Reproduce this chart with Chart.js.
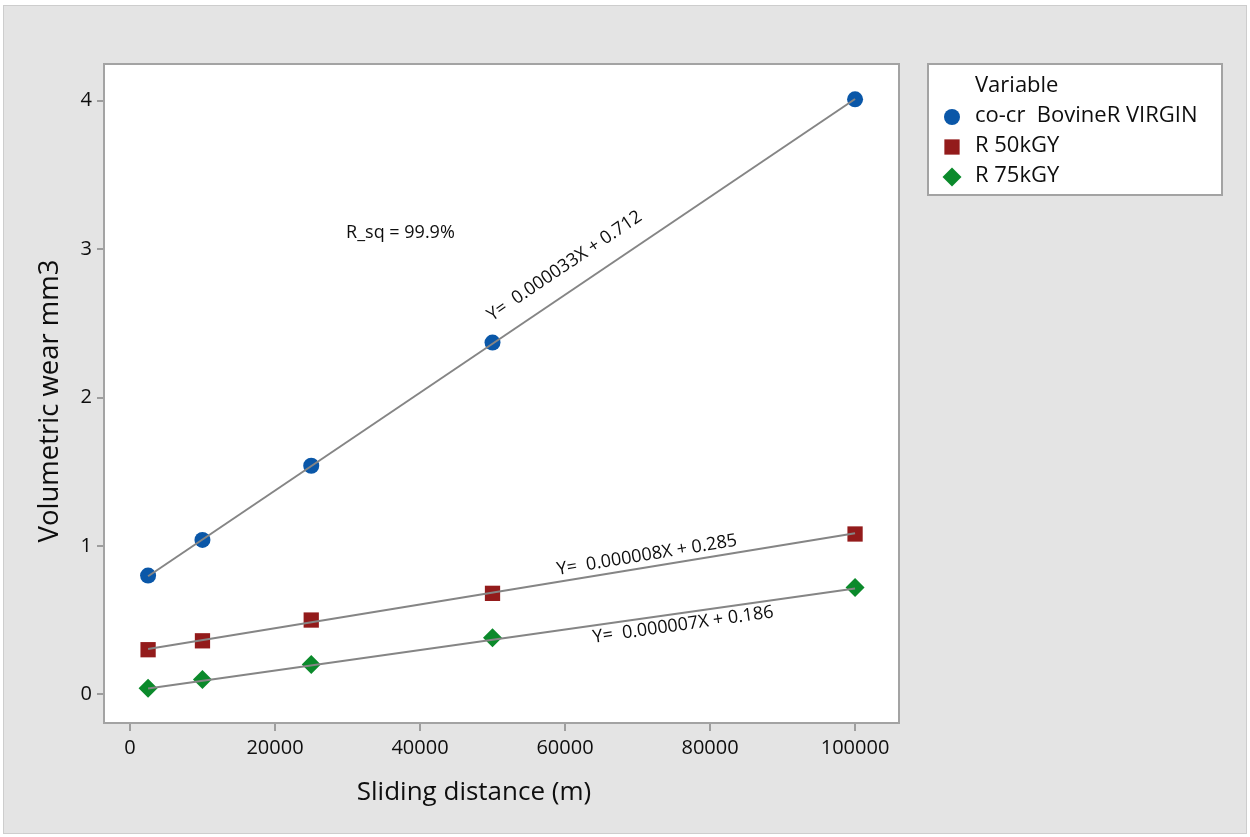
<!DOCTYPE html>
<html>
<head>
<meta charset="utf-8">
<title>Volumetric wear vs sliding distance</title>
<script src="https://cdn.jsdelivr.net/npm/chart.js@4.4.0/dist/chart.umd.min.js"></script>
<style>
  html, body { margin: 0; padding: 0; background: #ffffff; }
  #wrap { width: 1250px; height: 837px; position: relative; }
</style>
</head>
<body>
<div id="wrap"><canvas id="wearChart"></canvas></div>
<script>
// sliding distance (m) at each wear measurement
const distances = [2500, 10000, 25000, 50000, 100000];
const virginWear = [0.80, 1.04, 1.54, 2.37, 4.01];
const r50Wear = [0.30, 0.36, 0.50, 0.68, 1.08];
const r75Wear = [0.04, 0.10, 0.20, 0.38, 0.72];

// ends of the fitted regression lines
const fitX = [2500, 100000];
const virginFit = [0.795, 4.012];
const r50Fit = [0.305, 1.085];
const r75Fit = [0.039, 0.713];

const seriesNames = ['co-cr  BovineR VIRGIN', 'R 50kGY', 'R 75kGY'];
const fitLabels = ['Y=  0.000033X + 0.712', 'Y=  0.000008X + 0.285', 'Y=  0.000007X + 0.186'];
const rsqLabel = 'R_sq = 99.9%';
const xTicks = [0, 20000, 40000, 60000, 80000, 100000];
const yTicks = [0, 1, 2, 3, 4];

const FONT = '"Open Sans", "Noto Sans", sans-serif';
const TEXT = '#0e0e0e';
const LINE_GREY = '#858585';

function toPoints(xs, ys) {
    return xs.map((x, i) => ({ x: x, y: ys[i] }));
}

// where each equation sits along its line (x in data units, offset in px off the line)
const fitLabelPos = [
    { at: 61800, off: -24 },
    { at: 71560, off: -12 },
    { at: 76050, off: 12 }
];

const framePlugin = {
    id: 'frame',
    beforeDraw(chart) {
        const ctx = chart.ctx;
        const a = chart.chartArea;
        ctx.save();
        ctx.fillStyle = '#ffffff';
        ctx.fillRect(0, 0, chart.width, chart.height);
        ctx.fillStyle = '#e4e4e4';
        ctx.fillRect(4, 6, 1242, 827);
        ctx.strokeStyle = '#cdcdcd';
        ctx.lineWidth = 1;
        ctx.strokeRect(3.5, 5.5, 1243, 828);
        ctx.fillStyle = '#ffffff';
        ctx.fillRect(a.left, a.top, a.right - a.left, a.bottom - a.top);
        ctx.restore();
    },
    afterDraw(chart) {
        const ctx = chart.ctx;
        const a = chart.chartArea;
        const xs = chart.scales.x;
        const ys = chart.scales.y;
        ctx.save();

        // plot border
        ctx.strokeStyle = '#a3a3a3';
        ctx.lineWidth = 2;
        ctx.strokeRect(a.left, a.top, a.right - a.left, a.bottom - a.top);

        // axis titles
        ctx.fillStyle = TEXT;
        ctx.font = '26px ' + FONT;
        ctx.textAlign = 'center';
        ctx.textBaseline = 'alphabetic';
        ctx.fillText('Sliding distance (m)', 474, 800);
        ctx.save();
        ctx.translate(58, 401);
        ctx.rotate(-Math.PI / 2);
        ctx.font = '27.5px ' + FONT;
        ctx.fillText('Volumetric wear mm3', 0, 0);
        ctx.restore();

        // regression equations, rotated along their lines
        const fits = [virginFit, r50Fit, r75Fit];
        ctx.font = '18px ' + FONT;
        ctx.textBaseline = 'middle';
        fits.forEach((f, i) => {
            const p0 = { x: xs.getPixelForValue(fitX[0]), y: ys.getPixelForValue(f[0]) };
            const p1 = { x: xs.getPixelForValue(fitX[1]), y: ys.getPixelForValue(f[1]) };
            const t = (fitLabelPos[i].at - fitX[0]) / (fitX[1] - fitX[0]);
            const px = p0.x + (p1.x - p0.x) * t;
            const py = p0.y + (p1.y - p0.y) * t;
            ctx.save();
            ctx.translate(px, py);
            ctx.rotate(Math.atan2(p1.y - p0.y, p1.x - p0.x));
            ctx.fillText(fitLabels[i], 0, fitLabelPos[i].off);
            ctx.restore();
        });
        ctx.fillText(rsqLabel, xs.getPixelForValue(37300), ys.getPixelForValue(3.11));

        // legend box
        const lx = 928, ly = 64, lw = 294, lh = 131;
        ctx.fillStyle = '#ffffff';
        ctx.fillRect(lx, ly, lw, lh);
        ctx.strokeStyle = '#a3a3a3';
        ctx.lineWidth = 2;
        ctx.strokeRect(lx, ly, lw, lh);
        ctx.fillStyle = TEXT;
        ctx.font = '22px ' + FONT;
        ctx.textAlign = 'left';
        ctx.textBaseline = 'alphabetic';
        ctx.fillText('Variable', 975, 92);
        const pointSets = chart.data.datasets.filter(d => !d.showLine);
        pointSets.forEach((d, i) => {
            const y = 122 + i * 30;
            ctx.fillStyle = d.backgroundColor;
            Chart.helpers.drawPoint(ctx, { pointStyle: d.pointStyle, radius: d.pointRadius, rotation: 0, borderWidth: 0 }, 952, y - 5);
            ctx.fillStyle = TEXT;
            ctx.fillText(d.label, 975, y);
        });
        ctx.restore();
    }
};

const axisGrid = {
    drawOnChartArea: false,
    drawTicks: true,
    color: '#9d9d9d',
    lineWidth: 2
};

new Chart(document.getElementById('wearChart'), {
    type: 'scatter',
    data: {
        datasets: [{
            label: 'fit virgin',
            data: toPoints(fitX, virginFit),
            showLine: true,
            borderColor: LINE_GREY,
            borderWidth: 2,
            pointRadius: 0,
            order: 0
        }, {
            label: 'fit 50',
            data: toPoints(fitX, r50Fit),
            showLine: true,
            borderColor: LINE_GREY,
            borderWidth: 2,
            pointRadius: 0,
            order: 0
        }, {
            label: 'fit 75',
            data: toPoints(fitX, r75Fit),
            showLine: true,
            borderColor: LINE_GREY,
            borderWidth: 2,
            pointRadius: 0,
            order: 0
        }, {
            label: seriesNames[0],
            data: toPoints(distances, virginWear),
            showLine: false,
            pointStyle: 'circle',
            pointRadius: 8,
            backgroundColor: '#0a57a8',
            borderWidth: 0,
            order: 1
        }, {
            label: seriesNames[1],
            data: toPoints(distances, r50Wear),
            showLine: false,
            pointStyle: 'rect',
            pointRadius: 10.8,
            backgroundColor: '#931b1b',
            borderWidth: 0,
            order: 1
        }, {
            label: seriesNames[2],
            data: toPoints(distances, r75Wear),
            showLine: false,
            pointStyle: 'rectRot',
            pointRadius: 9.5,
            backgroundColor: '#0b8a2b',
            borderWidth: 0,
            order: 1
        }]
    },
    options: {
        responsive: true,
        maintainAspectRatio: false,
        animation: false,
        layout: { padding: { left: 0, top: 64, right: 351, bottom: 0 } },
        plugins: {
            legend: { display: false },
            tooltip: { enabled: false }
        },
        scales: {
            x: {
                type: 'linear',
                min: -3580,
                max: 106060,
                afterBuildTicks: s => { s.ticks = xTicks.map(v => ({ value: v })); },
                afterFit: s => { s.height = 114; },
                grid: Object.assign({ tickLength: 8 }, axisGrid),
                border: { display: false },
                ticks: {
                    color: TEXT,
                    padding: 5,
                    maxRotation: 0,
                    font: { family: FONT, size: 20 },
                    callback: v => String(v)
                }
            },
            y: {
                type: 'linear',
                min: -0.194,
                max: 4.248,
                afterBuildTicks: s => { s.ticks = yTicks.map(v => ({ value: v })); },
                afterFit: s => { s.width = 104; },
                grid: Object.assign({ tickLength: 7 }, axisGrid),
                border: { display: false },
                ticks: {
                    color: TEXT,
                    padding: 5,
                    font: { family: FONT, size: 20 },
                    callback: v => String(v)
                }
            }
        }
    },
    plugins: [framePlugin]
});
</script>
</body>
</html>
